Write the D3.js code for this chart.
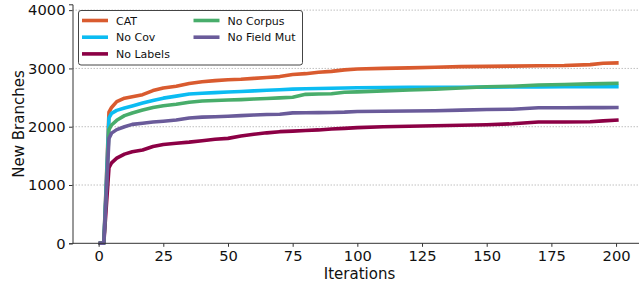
<!DOCTYPE html>
<html>
<head>
<meta charset="utf-8">
<title>New Branches</title>
<script src="https://cdn.jsdelivr.net/npm/d3@7"></script>
<style>
  body { margin: 0; background: #fff; }
  svg text { font-family: "DejaVu Sans", sans-serif; fill: #111; }
</style>
</head>
<body>
<script>
// iterations
var iterations = [0, 1, 2, 3, 4, 5, 7, 10, 13, 17, 21, 25, 30, 35, 40, 45, 50, 55, 60, 65, 70, 75, 80, 85, 90, 95, 100, 110, 120, 130, 140, 150, 160, 170, 180, 190, 195, 201];

var catVals = [0, 0, 0, 1100, 2250, 2330, 2430, 2490, 2515, 2550, 2620, 2665, 2695, 2740, 2770, 2790, 2805, 2815, 2830, 2845, 2860, 2895, 2910, 2935, 2950, 2975, 2990, 3000, 3010, 3020, 3030, 3035, 3040, 3045, 3050, 3065, 3090, 3095];
var noCovVals = [0, 0, 0, 1050, 2150, 2230, 2280, 2320, 2355, 2405, 2450, 2490, 2525, 2560, 2575, 2585, 2595, 2605, 2615, 2625, 2635, 2645, 2650, 2655, 2660, 2665, 2668, 2672, 2675, 2677, 2678, 2680, 2682, 2684, 2685, 2686, 2687, 2688];
var noLabelsVals = [0, 0, 0, 650, 1300, 1380, 1460, 1530, 1570, 1600, 1660, 1695, 1715, 1735, 1760, 1785, 1800, 1840, 1870, 1895, 1915, 1925, 1935, 1945, 1960, 1972, 1985, 2000, 2008, 2017, 2025, 2034, 2050, 2081, 2081, 2085, 2100, 2115];
var noCorpusVals = [0, 0, 0, 950, 1950, 2030, 2110, 2190, 2235, 2285, 2330, 2360, 2385, 2420, 2440, 2450, 2458, 2465, 2475, 2485, 2495, 2505, 2555, 2560, 2565, 2590, 2598, 2615, 2630, 2645, 2665, 2685, 2695, 2715, 2725, 2735, 2740, 2745];
var noFieldMutVals = [0, 0, 0, 900, 1800, 1890, 1950, 2000, 2040, 2060, 2080, 2095, 2115, 2150, 2165, 2172, 2180, 2190, 2200, 2210, 2215, 2238, 2240, 2242, 2245, 2250, 2260, 2265, 2270, 2275, 2285, 2295, 2300, 2325, 2326, 2327, 2328, 2330];

var seriesNames = ["CAT", "No Cov", "No Labels", "No Corpus", "No Field Mut"];
var seriesColors = ["#d95b2f", "#0bbcf2", "#8c0045", "#48ad6b", "#6a5b9a"];
var xTicks = [0, 25, 50, 75, 100, 125, 150, 175, 200];
var yTicks = [0, 1000, 2000, 3000, 4000];

var allVals = [catVals, noCovVals, noLabelsVals, noCorpusVals, noFieldMutVals];
var series = seriesNames.map(function (n, i) {
    return { name: n, color: seriesColors[i], values: iterations.map(function (it, j) { return [it, allVals[i][j]]; }) };
});

var width = 639, height = 285;

var svg = d3.select("body").append("svg")
    .attr("width", width)
    .attr("height", height);

// scales (right end runs off the picture, like the original)
var x = d3.scaleLinear().domain([-10.1, 212]).range([72.5, 647.1]);
var y = d3.scaleLinear().domain([0, 4100]).range([243.3, 4.3]);

// grid
svg.append("g").selectAll("line")
    .data(yTicks.filter(function (d) { return d > 0; }))
    .enter().append("line")
    .attr("x1", 72.5).attr("x2", width)
    .attr("y1", function (d) { return y(d); })
    .attr("y2", function (d) { return y(d); })
    .attr("stroke", "#b0b0b0")
    .attr("stroke-width", 0.8)
    .attr("stroke-dasharray", "1.5,1.5");

// lines
var line = d3.line()
    .x(function (d) { return x(d[0]); })
    .y(function (d) { return y(d[1]); });

svg.append("g").selectAll("path")
    .data(series)
    .enter().append("path")
    .attr("d", function (d) { return line(d.values); })
    .attr("fill", "none")
    .attr("stroke", function (d) { return d.color; })
    .attr("stroke-width", 3.6)
    .attr("stroke-linejoin", "round");

// axes
var xAxis = svg.append("g")
    .attr("transform", "translate(0," + y(0) + ")")
    .call(d3.axisBottom(x).tickValues(xTicks).tickSize(3.5).tickPadding(3.5));
var yAxis = svg.append("g")
    .attr("transform", "translate(" + x.range()[0] + ",0)")
    .call(d3.axisLeft(y).tickValues(yTicks).tickSize(3.5).tickPadding(3.5).tickFormat(d3.format("d")));

[xAxis, yAxis].forEach(function (a) {
    a.selectAll("path.domain").attr("stroke", "#333").attr("stroke-width", 1);
    a.selectAll(".tick line").attr("stroke", "#333").attr("stroke-width", 1);
    a.selectAll(".tick text").style("font-size", "14.7px").attr("fill", "#111")
        .style("font-family", "DejaVu Sans, sans-serif");
});
xAxis.select("path.domain").attr("d", "M" + x.range()[0] + ",0H" + width);

// axis titles
svg.append("text")
    .attr("x", 359.5).attr("y", 279)
    .attr("text-anchor", "middle")
    .style("font-size", "15px")
    .text("Iterations");
svg.append("text")
    .attr("transform", "translate(24,124) rotate(-90)")
    .attr("text-anchor", "middle")
    .style("font-size", "15px")
    .text("New Branches");

// legend, two columns
var legend = svg.append("g");
legend.append("rect")
    .attr("x", 78.5).attr("y", 10.5)
    .attr("width", 224).attr("height", 54.5)
    .attr("rx", 2.5)
    .attr("fill", "#fff")
    .attr("stroke", "#444")
    .attr("stroke-width", 1);

var items = legend.selectAll("g.item")
    .data(series)
    .enter().append("g")
    .attr("class", "item")
    .attr("transform", function (d, i) {
        var col = i < 3 ? 0 : 1, row = i < 3 ? i : i - 3;
        return "translate(" + (col === 0 ? 82 : 193.5) + "," + (20.5 + row * 16.7) + ")";
    });
items.append("line")
    .attr("x1", 0).attr("x2", 26)
    .attr("stroke", function (d) { return d.color; })
    .attr("stroke-width", 3.6);
items.append("text")
    .attr("x", 34)
    .attr("y", 4)
    .style("font-size", "11px")
    .text(function (d) { return d.name; });
</script>
</body>
</html>
